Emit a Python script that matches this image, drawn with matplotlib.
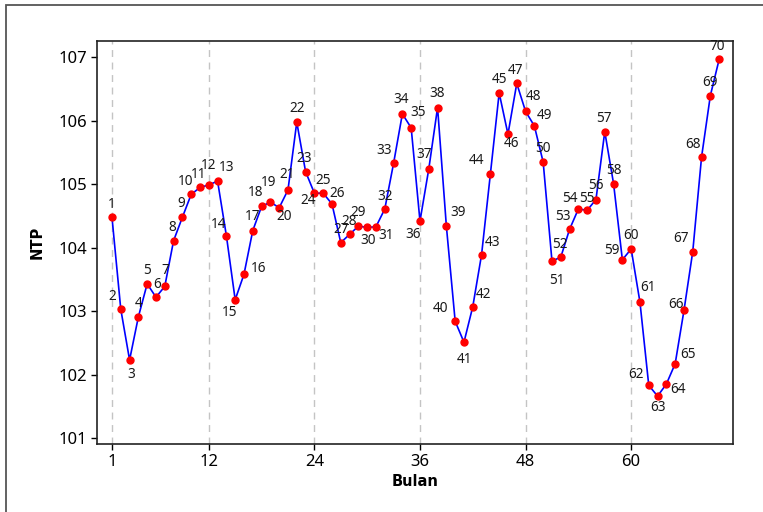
import matplotlib
matplotlib.use('Agg')
import matplotlib.pyplot as plt
from matplotlib.patches import Rectangle

# NTP bulanan, bulan ke-1 s.d. 70
bulan = list(range(1, 71))
ntp = [104.48, 103.03, 102.23, 102.91, 103.43, 103.22, 103.39, 104.11, 104.48, 104.84,
       104.95, 104.99, 105.05, 104.19, 103.18, 103.58, 104.27, 104.65, 104.72, 104.63,
       104.91, 105.98, 105.20, 104.86, 104.86, 104.69, 104.08, 104.21, 104.34, 104.32,
       104.33, 104.61, 105.33, 106.11, 105.89, 104.42, 105.24, 106.21, 104.34, 102.84,
       102.51, 103.07, 103.89, 105.16, 106.44, 105.79, 106.59, 106.15, 105.92, 105.35,
       103.79, 103.85, 104.29, 104.61, 104.59, 104.76, 105.83, 105.01, 103.81, 103.98,
       103.14, 101.83, 101.66, 101.85, 102.17, 103.01, 103.94, 105.43, 106.40, 106.97]
xticks = [1, 12, 24, 36, 48, 60]
yticks = [101, 102, 103, 104, 105, 106, 107]

# posisi label titik (piksel, relatif ke titik)
lab_off = [(0, 13), (-9, 13), (2, -15), (0, 13), (0, 13), (1, 13), (0, 16), (-1, 13), (-1, 14), (-6, 13),
           (-1, 13), (0, 19), (9, 14), (-8, 11), (-6, -13), (15, 6), (0, 14), (-6, 14), (-2, 20), (5, -9),
           (-1, 15), (0, 14), (-1, 13), (-6, -7), (0, 13), (5, 10), (0, 13), (0, 13), (0, 14), (1, -13),
           (10, -9), (0, 13), (-9, 13), (-1, 14), (7, 15), (-7, -13), (-5, 15), (0, 14), (12, 14), (-15, 13),
           (1, -17), (11, 12), (11, 12), (-14, 14), (0, 13), (4, -9), (-1, 13), (8, 15), (10, 10), (0, 14),
           (5, -19), (-1, 13), (-7, 13), (-8, 11), (0, 12), (0, 14), (-1, 13), (0, 13), (-10, 9), (0, 13),
           (8, 15), (-13, 11), (0, -11), (12, -5), (13, 9), (-8, 6), (-12, 13), (-9, 13), (0, 13), (-2, 13)]

plt.rcParams['font.family'] = ['Noto Sans', 'DejaVu Sans']

fig = plt.figure(figsize=(7.63, 5.12), dpi=100)
ax = fig.add_axes([0.1275, 0.1322, 0.961 - 0.1275, 0.920 - 0.1322])

for x in xticks:
    ax.axvline(x, color='#c4c4c4', lw=1, ls=(0, (5, 4)), zorder=0)

ax.plot(bulan, ntp, color='#0000ff', lw=1.2, zorder=2)
ax.plot(bulan, ntp, 'o', color='#ff0000', ms=5, zorder=3)

for x, y, (dx, dy) in zip(bulan, ntp, lab_off):
    ax.annotate(str(x), (x, y), xytext=(dx, dy), textcoords='offset pixels',
                ha='center', va='center', fontsize=9.8, color='#1a1a1a')

ax.set_xlim(-0.67, 71.6)
ax.set_ylim(100.9, 107.26)
ax.set_xticks(xticks)
ax.set_yticks(yticks)
ax.tick_params(labelsize=12, length=4, width=1, colors='black', pad=3)
for s in ax.spines.values():
    s.set_color('#222222')
    s.set_linewidth(1.2)

ax.set_xlabel('Bulan', fontsize=10.5, fontweight='bold', family='DejaVu Sans', labelpad=3)
ax.set_ylabel('NTP', fontsize=10.5, fontweight='bold', family='DejaVu Sans', labelpad=10)

fig.patches.append(Rectangle((6 / 763, -0.2), 1.2, 1.2 - 5 / 512, transform=fig.transFigure,
                             fill=False, edgecolor='#555555', lw=1.3))

fig.savefig('out.png', dpi=100)
